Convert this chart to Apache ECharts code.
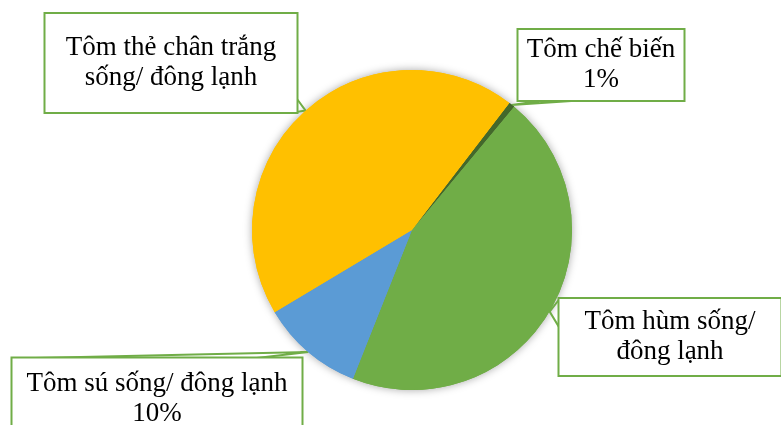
<!DOCTYPE html>
<html>
<head>
<meta charset="utf-8">
<script src="https://cdn.jsdelivr.net/npm/echarts@6/dist/echarts.min.js"></script>
<style>
  html, body { margin: 0; padding: 0; background: #fff; }
  #chart { width: 781px; height: 425px; }
</style>
</head>
<body>
<div id="chart"></div>
<script>
// data, clockwise from the small slice
var categories = ["Tôm chế biến", "Tôm hùm sống/ đông lạnh", "Tôm sú sống/ đông lạnh", "Tôm thẻ chân trắng sống/ đông lạnh"];
var shares = [0.6, 45.0, 10.4, 44.0];
var labelLines = [["Tôm chế biến"], ["Tôm hùm sống/", "đông lạnh"], ["Tôm sú sống/ đông lạnh"], ["Tôm thẻ chân trắng", "sống/ đông lạnh"]];
var showPercent = [true, false, true, false];

var colors = ["#43682B", "#70AD47", "#5B9BD5", "#FFC000"];
// callout boxes: centre x, centre y, width, height
var boxes = [
  [601, 65, 165, 70],
  [670, 337, 221, 76],
  [157, 399, 289, 81],
  [171, 63, 251, 98]
];
// callout pointer base, as fractions of the box
var pointerBase = [
  [[0.17, 1], [0.41, 1]],
  [[0, 0], [0, 0.38]],
  [[0, 0], [0.83, 0]],
  [[1, 0.86], [1, 1]]
];

var chart = echarts.init(document.getElementById("chart"));

var data = categories.map(function (name, i) {
  return {
    name: name,
    value: shares[i],
    itemStyle: { color: colors[i] },
    label: { width: boxes[i][2], height: boxes[i][3] }
  };
});

function boxPoint(i, f) {
  var b = boxes[i];
  return [b[0] - b[2] / 2 + f[0] * b[2], b[1] - b[3] / 2 + f[1] * b[3]];
}

var option = {
  animation: false,
  series: [
    {
      // soft shadow under the pie
      type: "pie",
      silent: true,
      z: 1,
      center: [412, 230],
      radius: 160,
      startAngle: 52.5,
      label: { show: false },
      labelLine: { show: false },
      itemStyle: { shadowBlur: 8, shadowColor: "rgba(0,0,0,0.35)", borderWidth: 0 },
      data: shares.map(function (v, i) { return { value: v, itemStyle: { color: colors[i] } }; })
    },
    {
      type: "pie",
      z: 2,
      center: [412, 230],
      radius: 160,
      startAngle: 52.5,
      avoidLabelOverlap: false,
      percentPrecision: 0,
      itemStyle: { borderWidth: 0 },
      label: {
        show: true,
        position: "outside",
        overflow: "none",
        fontFamily: "'Liberation Serif', 'Times New Roman', serif",
        fontSize: 27,
        lineHeight: 30,
        color: "#000",
        backgroundColor: "#fff",
        borderColor: "#70AD47",
        borderWidth: 2,
        padding: 0,
        align: "center",
        formatter: function (p) {
          var lines = labelLines[p.dataIndex].slice();
          if (showPercent[p.dataIndex]) lines.push(p.percent + "%");
          return lines.join("\n");
        }
      },
      labelLine: {
        show: true,
        length: 10,
        length2: 10,
        lineStyle: { color: "#70AD47", width: 2 }
      },
      labelLayout: function (p) {
        var i = p.dataIndex;
        var b = boxes[i];
        var res = { x: b[0], y: b[1], align: "center", verticalAlign: "middle" };
        if (p.labelLinePoints && p.labelLinePoints.length) {
          var anchor = p.labelLinePoints[0];
          res.labelLinePoints = [boxPoint(i, pointerBase[i][0]), anchor, boxPoint(i, pointerBase[i][1])];
        }
        return res;
      },
      data: data
    }
  ]
};

chart.setOption(option);
</script>
</body>
</html>
